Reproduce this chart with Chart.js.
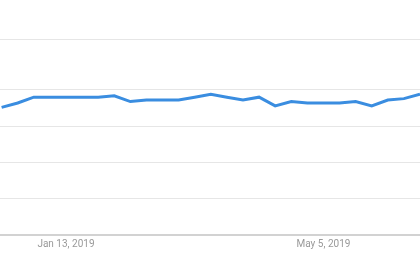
<!DOCTYPE html>
<html>
<head>
<meta charset="utf-8">
<script src="https://cdn.jsdelivr.net/npm/chart.js@4"></script>
<style>
html,body{margin:0;padding:0;background:#fff;}
#wrap{width:420px;height:260px;position:relative;}
</style>
</head>
<body>
<div id="wrap"><canvas id="c"></canvas></div>
<script>
// Weekly categories (Sundays)
const categories = [
  "Dec 16, 2018","Dec 23, 2018","Dec 30, 2018","Jan 6, 2019","Jan 13, 2019",
  "Jan 20, 2019","Jan 27, 2019","Feb 3, 2019","Feb 10, 2019","Feb 17, 2019",
  "Feb 24, 2019","Mar 3, 2019","Mar 10, 2019","Mar 17, 2019","Mar 24, 2019",
  "Mar 31, 2019","Apr 7, 2019","Apr 14, 2019","Apr 21, 2019","Apr 28, 2019",
  "May 5, 2019","May 12, 2019","May 19, 2019","May 26, 2019","Jun 2, 2019",
  "Jun 9, 2019","Jun 16, 2019"
];
const values = [88,91,95,95,95,95,95,96,92,93,93,93,95,97,95,93,95,89,92,91,91,91,92,89,93,94,97];
const xTickLabels = ["Jan 13, 2019","May 5, 2019"];
const yGridValues = [0,25,50,75,100,135];

const points = values.map((v,i)=>({x:i,y:v}));
const xTickIdx = xTickLabels.map(l=>categories.indexOf(l));

new Chart(document.getElementById('c'), {
  type: 'line',
  data: {
    datasets: [{
      data: points,
      borderColor: '#3a8de0',
      borderWidth: 3,
      pointRadius: 0,
      tension: 0,
      fill: false
    }]
  },
  options: {
    responsive: true,
    maintainAspectRatio: false,
    animation: false,
    layout: { padding: 0 },
    plugins: { legend: { display: false }, tooltip: { enabled: false } },
    scales: {
      x: {
        type: 'linear',
        min: -0.1,
        max: 26,
        afterBuildTicks: s => { s.ticks = xTickIdx.map(v=>({value:v})); },
        afterFit: s => { s.height = 25; },
        grid: { display: false, drawTicks: false },
        border: { display: true, color: '#d2d2d2', width: 2 },
        ticks: {
          autoSkip: false,
          maxRotation: 0,
          padding: 3,
          color: '#999999',
          font: { family: 'Roboto', size: 10 },
          callback: v => categories[Math.round(v)]
        }
      },
      y: {
        min: 0,
        max: 162,
        afterBuildTicks: s => { s.ticks = yGridValues.map(v=>({value:v})); },
        afterFit: s => { s.width = 0; },
        grid: { color: '#e6e6e6', lineWidth: 1, drawTicks: false },
        border: { display: false },
        ticks: { display: false }
      }
    }
  }
});
</script>
</body>
</html>
